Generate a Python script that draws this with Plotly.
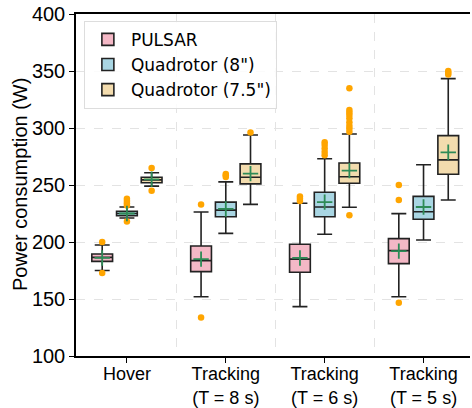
import plotly.graph_objects as go

categories = ["Hover", "Tracking<br>(T = 8 s)", "Tracking<br>(T = 6 s)", "Tracking<br>(T = 5 s)"]
series_names = ["PULSAR", "Quadrotor (8\")", "Quadrotor (7.5\")"]

# Box statistics per series (one value per category)
pulsar_q1 = [183, 174, 173.5, 181]
pulsar_med = [186.5, 183.7, 185, 192.4]
pulsar_q3 = [189.5, 196.5, 198, 203]
pulsar_lo = [175, 152, 143.3, 152]
pulsar_hi = [197.4, 226.3, 234, 224.9]
pulsar_mean = [186, 185, 186, 192]
pulsar_out = [[200, 172.7], [232.8, 133.7], [236, 238, 240], [250, 236.9, 146.8]]

quad8_q1 = [223, 222.2, 222.2, 220]
quad8_med = [225, 228, 230.7, 226.6]
quad8_q3 = [227, 235, 243.6, 240]
quad8_lo = [221, 207.6, 206.8, 201.8]
quad8_hi = [230.7, 252.7, 273, 267.8]
quad8_mean = [225, 229, 235, 230.7]
quad8_out = [[232, 234, 236, 238, 218], [257, 258.5, 259.7], [276, 279, 282, 285, 287.5], []]

quad75_q1 = [252, 251, 251.5, 259.4]
quad75_med = [254.5, 256.8, 257.3, 272]
quad75_q3 = [256.8, 268.5, 269.3, 293.3]
quad75_lo = [249, 233, 230.5, 236.9]
quad75_hi = [260.8, 293.9, 294.8, 343.3]
quad75_mean = [255, 260, 262.6, 278.7]
quad75_out = [[265, 245], [296], [334.8, 311.4, 313.5, 315.8, 296.8, 299.5, 302, 305, 308.5, 223.5], [347, 348.5, 350]]

y_ticks = [100, 150, 200, 250, 300, 350, 400]
y_title = "Power consumption (W)"

fills = ["#F4B8C6", "#A9D6E3", "#F3DCAE"]
offsets = [-0.25, 0.0, 0.25]
stats = [
    (pulsar_q1, pulsar_med, pulsar_q3, pulsar_lo, pulsar_hi, pulsar_mean, pulsar_out),
    (quad8_q1, quad8_med, quad8_q3, quad8_lo, quad8_hi, quad8_mean, quad8_out),
    (quad75_q1, quad75_med, quad75_q3, quad75_lo, quad75_hi, quad75_mean, quad75_out),
]

fig = go.Figure()
idx = list(range(len(categories)))
for s, (name, fill, off, st) in enumerate(zip(series_names, fills, offsets, stats)):
    q1, med, q3, lo, hi, mean, outs = st
    xs = [i + off for i in idx]
    fig.add_trace(go.Box(
        name=name, x=xs, q1=q1, median=med, q3=q3, lowerfence=lo, upperfence=hi,
        width=0.21, whiskerwidth=0.72, fillcolor=fill,
        line=dict(color="#222222", width=1.6), boxpoints=False, hoverinfo="skip",
    ))
for s, (off, st) in enumerate(zip(offsets, stats)):
    q1, med, q3, lo, hi, mean, outs = st
    ox, oy = [], []
    for i, vals in zip(idx, outs):
        for v in vals:
            ox.append(i + off)
            oy.append(v)
    fig.add_trace(go.Scatter(x=ox, y=oy, mode="markers", showlegend=False,
                             marker=dict(color="#FFA500", size=6.5, line=dict(width=0))))
    fig.add_trace(go.Scatter(x=[i + off for i in idx], y=mean, mode="markers", showlegend=False,
                             marker=dict(symbol="cross-thin", color="#2E8B57", size=11,
                                         line=dict(color="#2E8B57", width=1.8))))

fig.update_layout(
    width=472, height=408,
    margin=dict(l=76, r=2, t=14, b=52),
    paper_bgcolor="white", plot_bgcolor="white",
    boxmode="overlay",
    font=dict(family="Liberation Sans, Arial, sans-serif", color="black", size=18),
    legend=dict(x=0.02, y=0.98, xanchor="left", yanchor="top",
                bgcolor="rgba(255,255,255,0.85)", bordercolor="#DDDDDD", borderwidth=1,
                font=dict(family="DejaVu Sans", size=17), tracegroupgap=2,
                itemwidth=36),
    annotations=[dict(text=y_title, xref="paper", yref="paper", x=0, y=0.5,
                      xanchor="center", yanchor="middle", xshift=-56, textangle=-90,
                      showarrow=False, font=dict(size=20))],
)
fig.update_xaxes(
    range=[-0.515, 3.47], tickmode="array", tickvals=idx, ticktext=categories,
    showgrid=False, zeroline=False, showline=True, linecolor="black", linewidth=1.5,
    mirror=True, ticks="outside", ticklen=5, tickcolor="black", automargin=False,
    tickfont=dict(size=18), ticklabelstandoff=-4,
    minor=dict(tickmode="array", tickvals=[0.5, 1.5, 2.5], showgrid=True,
               gridcolor="#E3E3E3", griddash="dash", gridwidth=1, ticks=""),
)
fig.update_yaxes(
    range=[100, 400], tickmode="array", tickvals=y_ticks,
    showgrid=True, gridcolor="#E3E3E3", griddash="dash", gridwidth=1,
    zeroline=False, showline=True, linecolor="black", linewidth=1.5,
    ticks="outside", ticklen=5, tickcolor="black", tickfont=dict(size=20), automargin=False,
)
fig.write_html("out.html")
